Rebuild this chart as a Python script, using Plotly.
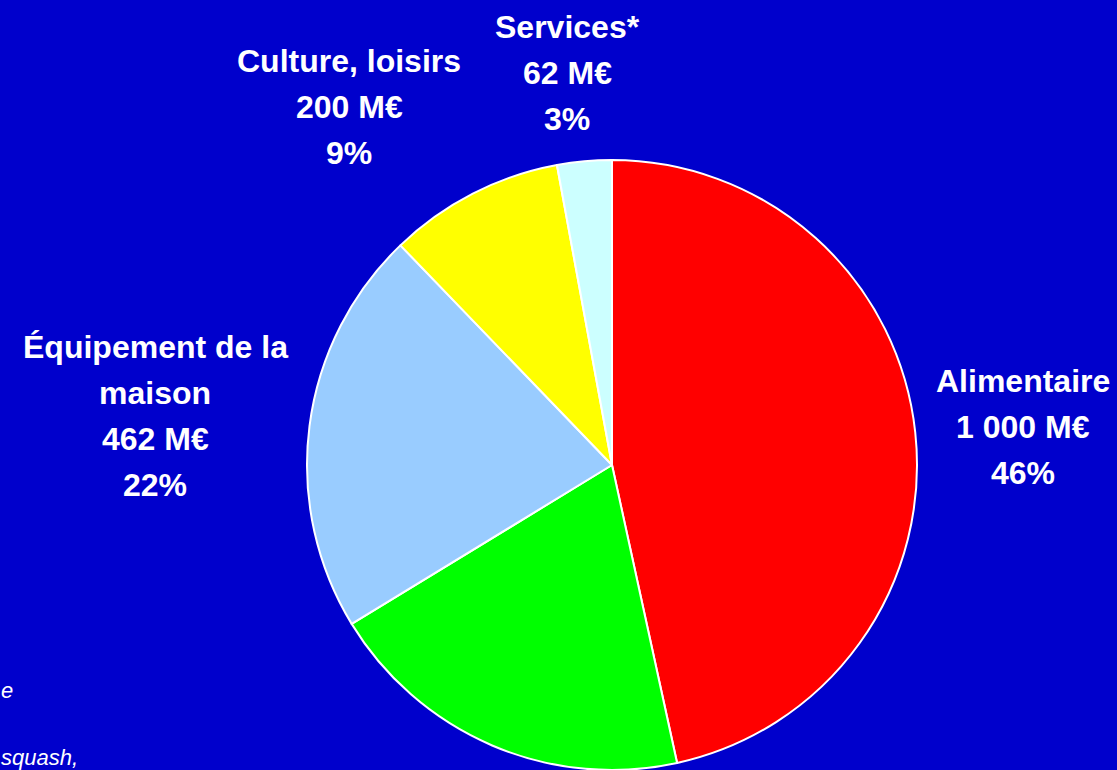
import plotly.graph_objects as go

# ---- data ----
categories = ["Alimentaire", "Équipement de la personne", "Équipement de la maison",
              "Culture, loisirs", "Services*"]
values_meur = [1000, 423, 462, 200, 62]
percent_labels = ["46%", "20%", "22%", "9%", "3%"]
label_lines = [["Alimentaire"], ["Équipement de la", "personne"],
               ["Équipement de la", "maison"], ["Culture, loisirs"], ["Services*"]]
colors = ["#FF0000", "#00FF00", "#99CCFF", "#FFFF00", "#CCFFFF"]
footnote_fragments = ["e", "squash,"]

# ---- layout / style ----
W, H = 1117, 770
BG = "#0000CC"
cx, cy, r = 612, 465, 305
# label anchor (centre x, first line centre y) in pixels; None = off-picture
label_pos = [(1023, 381), None, (155, 347), (349, 61), (567, 27)]
line_step = 46
font_main = dict(family="Liberation Sans, Arial, sans-serif", size=32, color="white")


def fmt_meur(v):
    return "{:,}".format(v).replace(",", " ") + " M€"


fig = go.Figure(go.Pie(
    labels=categories,
    values=values_meur,
    sort=False,
    direction="clockwise",
    rotation=0,
    marker=dict(colors=colors, line=dict(color="white", width=2)),
    textinfo="none",
    hoverinfo="label+value+percent",
    showlegend=False,
    domain=dict(x=[(cx - r) / W, (cx + r) / W], y=[(H - cy - r) / H, (H - cy + r) / H]),
))

annotations = []
for i, pos in enumerate(label_pos):
    if pos is None:
        continue
    lines = label_lines[i] + [fmt_meur(values_meur[i]), percent_labels[i]]
    x0, y0 = pos
    for k, txt in enumerate(lines):
        annotations.append(dict(
            x=x0 / W, y=1 - (y0 + k * line_step) / H, xref="paper", yref="paper",
            text="<b>" + txt + "</b>", showarrow=False, xanchor="center", yanchor="middle",
            font=font_main,
        ))

# footnote fragments visible at the left edge
foot_font = dict(family="Liberation Sans, Arial, sans-serif", size=22, color="white")
foot_pos = [(0, 690), (0, 757)]
for txt, (xl, yc) in zip(footnote_fragments, foot_pos):
    annotations.append(dict(
        x=xl / W, y=1 - yc / H, xref="paper", yref="paper", text="<i>" + txt + "</i>",
        showarrow=False, xanchor="left", yanchor="middle", font=foot_font,
        borderpad=0,
    ))

fig.update_layout(
    width=W, height=H,
    margin=dict(l=0, r=0, t=0, b=0),
    paper_bgcolor=BG, plot_bgcolor=BG,
    annotations=annotations,
)

fig.write_html(
    "out.html",
    config={"displayModeBar": False},
    post_script="document.body.style.margin='0';document.body.style.overflow='hidden';",
)
